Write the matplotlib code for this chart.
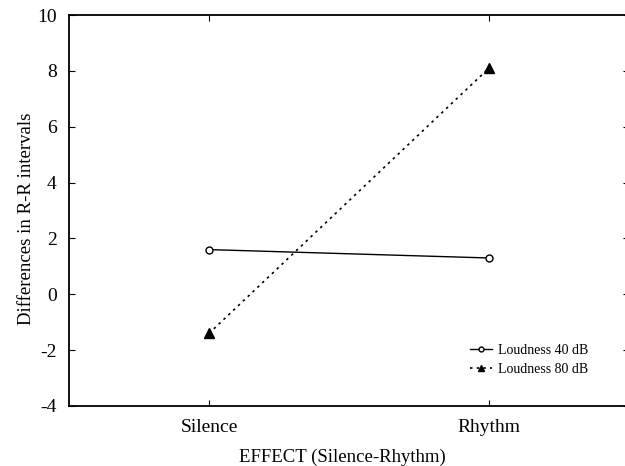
import matplotlib
matplotlib.use("Agg")
import matplotlib.pyplot as plt

# data
conditions = ["Silence", "Rhythm"]
loud_40 = [1.6, 1.3]
loud_80 = [-1.4, 8.1]
y_ticks = [-4, -2, 0, 2, 4, 6, 8, 10]

plt.rcParams["font.family"] = ["Liberation Serif", "DejaVu Serif"]

fig = plt.figure(figsize=(6.25, 4.66), dpi=100)
ax = fig.add_axes([69 / 625, 60 / 466, 560 / 625, 391 / 466])

x = list(range(len(conditions)))
ax.plot(x, loud_40, color="black", linestyle="-", linewidth=1.0,
        marker="o", markersize=5, markerfacecolor="white",
        markeredgecolor="black", label="Loudness 40 dB")
ax.plot(x, loud_80, color="black", linestyle=(0, (1.5, 2.5)), linewidth=1.2,
        marker="^", markersize=7, markerfacecolor="black",
        markeredgecolor="black", label="Loudness 80 dB")

ax.set_xlim(-0.5, 1.5)
ax.set_ylim(-4, 10)
ax.set_xticks(x)
ax.set_xticklabels(conditions, fontsize=14)
ax.set_yticks(y_ticks)
ax.set_yticklabels([str(v) for v in y_ticks], fontsize=14)
ax.tick_params(direction="in", length=4, width=0.8, right=True, top=True, pad=9)

for s in ax.spines.values():
    s.set_linewidth(1.3)

ax.set_xlabel("EFFECT (Silence-Rhythm)", fontsize=13.5)
ax.xaxis.set_label_coords((342 - 69) / 560, -0.108)
ax.set_ylabel("Differences in R-R intervals", fontsize=13.5)
ax.yaxis.set_label_coords(-0.06, (406 - 219) / 391)

# legend without frame, placed in figure pixels
ax.legend(loc="upper left", bbox_to_anchor=(470 / 625, 1 - 344 / 466),
          bbox_transform=fig.transFigure, frameon=False,
          fontsize=10, borderpad=0, borderaxespad=0,
          handlelength=1.6, handletextpad=0.4,
          labelspacing=0.4, markerscale=0.7)

fig.savefig("out.png", dpi=100)
